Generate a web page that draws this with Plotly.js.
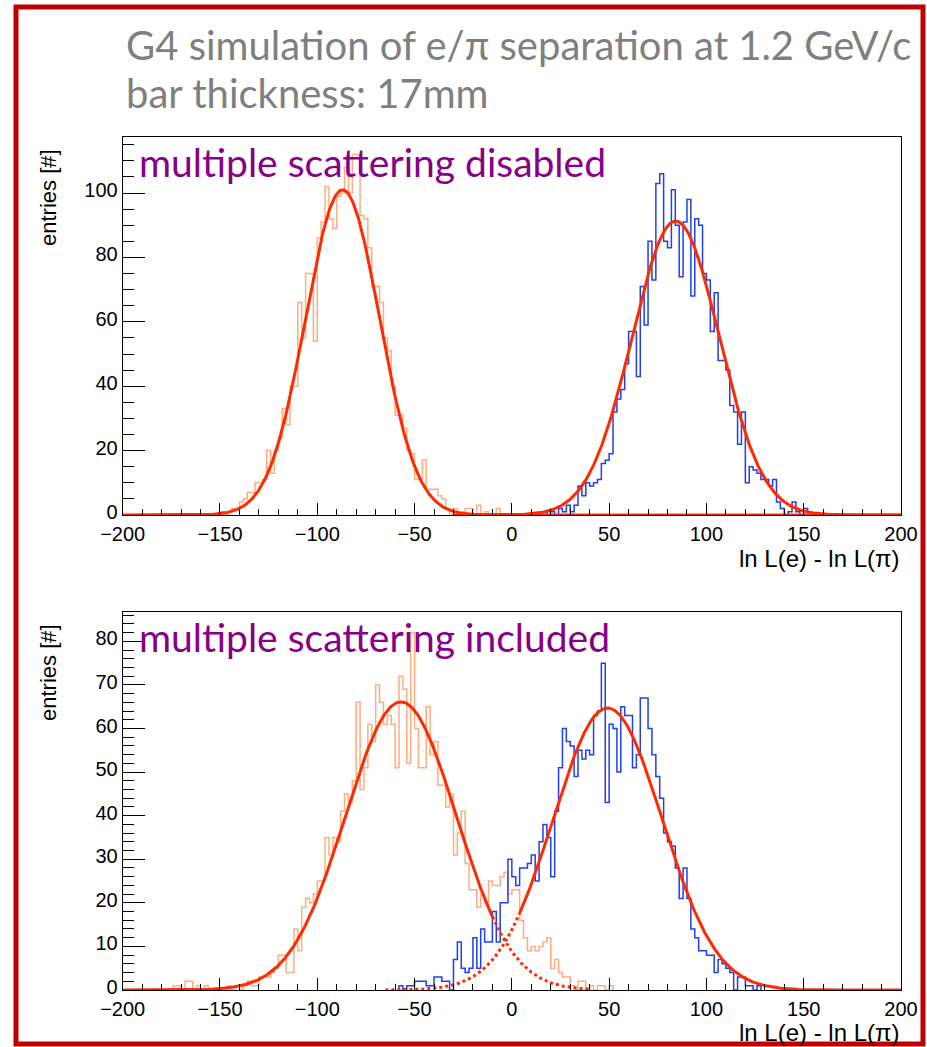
<!DOCTYPE html>
<html><head><meta charset="utf-8">
<script src="https://cdn.plot.ly/plotly-3.0.1.min.js"></script>
<style>html,body{margin:0;padding:0;background:#fff}</style>
</head><body><div id="chart" style="width:927px;height:1047px"></div>
<script>
// ---------- data ----------
const binWidth = 2;
const xTickVals = [-200, -150, -100, -50, 0, 50, 100, 150, 200];

// top panel: multiple scattering disabled
const topPionStart = -150;
const topPionCounts = [1,0,1,2,2,4,5,7,7,10, 10,11,20,13,20,24,33,28,40,40,
  66,55,75,75,54,86,91,102,92,89, 99,100,108,100,112,112,93,92,83,71,
  71,66,55,51,40,31,31,27,20,19, 11,11,17,8,8,8,6,5,2,0,
  2,0,1,2,2,0,3,0,1,0, 0,2];
const topElecStart = 18;
const topElecCounts = [1,1,0,2,1,3,1,3,9,6, 10,9,10,11,16,17,19,32,36,39,
  47,57,57,43,71,59,85,73,103,106, 85,83,101,90,74,91,98,68,92,90,
  75,73,57,69,48,48,45,34,32,22, 32,10,15,14,13,11,11,9,11,4,
  2,0,1,4,1,0,2,1];

// bottom panel: multiple scattering included
const botPionStart = -174;
const botPionCounts = [1,1,0,2,2,0,1,0,1,0, 0,0,0,0,1,0,1,0,1,2,
  1,1,3,3,3,4,5,8,8,4, 4,14,9,19,21,20,22,25,25,35,
  31,35,34,41,45,43,48,66,46,51, 61,57,70,66,61,63,61,51,72,69,
  52,82,60,51,51,65,54,57,47,47, 42,45,31,36,41,29,23,23,19,22,
  20,25,24,24,26,27,22,23,23,16, 12,9,10,9,10,11,12,5,7,4,
  3,3,1,0,2,2,0,1,0,1, 1,0,1];
const botElecStart = -58;
const botElecCounts = [1,0,1,1,2,2,2,1,1,3, 3,2,2,0,7,11,5,4,5,12,
  5,14,11,11,18,11,20,20,30,26, 24,28,28,29,31,25,34,38,35,26,
  41,51,60,57,56,49,55,53,55,54, 63,64,75,43,61,60,50,65,63,63,
  51,54,67,67,60,54,49,44,36,34, 33,28,21,28,21,14,12,9,9,8,
  8,4,7,6,5,4,0,3,3,1, 1,0,1];

// gaussian fits: [amplitude, mean, sigma]
const topPionFit = [101, -87, 19];
const topElecFit = [91.3, 84.2, 22.4];
const botPionFit = [66.1, -57, 28.4];
const botElecFit = [64.7, 49.2, 28];
// drawn ranges of each fit (solid / dotted parts)
const topPionSolid = [-200, 200];
const topElecSolid = [-30, 200];
const botPionSolid = [-200, -10];
const botPionDotted = [-10, 40];
const botElecDotted = [-65, 4];
const botElecSolid = [4, 200];

// ---------- drawing ----------
const W = 927, H = 1047;
const px = v => v / W;
const py = v => 1 - v / H;

const pionColor = '#ffad80';
const elecColor = '#1f3ff0';
const fitColor = '#ff2a00';

function stepTrace(start, counts, color, xa, ya) {
  const xs = [start], ys = [0];
  counts.forEach((c, i) => { xs.push(start + i * binWidth); ys.push(c); });
  const end = start + counts.length * binWidth;
  xs.push(end); ys.push(counts[counts.length - 1]);
  xs.push(end); ys.push(0);
  return {x: xs, y: ys, mode: 'lines', line: {shape: 'hv', color: color, width: 1.5},
          xaxis: xa, yaxis: ya, hoverinfo: 'skip'};
}
function fitTrace(p, range, dash, xa, ya) {
  const xs = [], ys = [];
  for (let x = range[0]; x <= range[1] + 1e-9; x += 0.5) {
    xs.push(x);
    ys.push(p[0] * Math.exp(-0.5 * Math.pow((x - p[1]) / p[2], 2)));
  }
  return {x: xs, y: ys, mode: 'lines', line: {color: fitColor, width: 3, dash: dash},
          xaxis: xa, yaxis: ya, hoverinfo: 'skip'};
}

const traces = [
  stepTrace(topPionStart, topPionCounts, pionColor, 'x', 'y'),
  stepTrace(topElecStart, topElecCounts, elecColor, 'x', 'y'),
  fitTrace(topPionFit, topPionSolid, 'solid', 'x', 'y'),
  fitTrace(topElecFit, topElecSolid, 'solid', 'x', 'y'),
  stepTrace(botPionStart, botPionCounts, pionColor, 'x2', 'y2'),
  stepTrace(botElecStart, botElecCounts, elecColor, 'x2', 'y2'),
  fitTrace(botPionFit, botPionSolid, 'solid', 'x2', 'y2'),
  fitTrace(botPionFit, botPionDotted, 'dot', 'x2', 'y2'),
  fitTrace(botElecFit, botElecDotted, 'dot', 'x2', 'y2'),
  fitTrace(botElecFit, botElecSolid, 'solid', 'x2', 'y2')
];

const tickFont = {family: 'Liberation Sans, Arial, sans-serif', size: 20, color: '#000'};
function xAxis(anchor) {
  return {domain: [px(122.7), px(901)], range: [-200, 200], anchor: anchor,
    tickvals: xTickVals, ticks: 'inside', ticklen: 12, tickwidth: 1, tickcolor: '#000',
    minor: {ticks: 'inside', ticklen: 6, dtick: 10, tickcolor: '#000', tickwidth: 1, showgrid: false},
    showline: true, mirror: true, linecolor: '#000', linewidth: 1,
    ticklabelstandoff: 1,
    showgrid: false, zeroline: false, tickfont: tickFont, fixedrange: true};
}
function yAxis(anchor, dom, top, dtick, minorDtick) {
  return {domain: dom, range: [0, top], anchor: anchor, dtick: dtick, tick0: 0,
    ticks: 'inside', ticklen: 22, tickwidth: 1, tickcolor: '#000',
    minor: {ticks: 'inside', ticklen: 11, dtick: minorDtick, tickcolor: '#000', tickwidth: 1, showgrid: false},
    showline: true, mirror: true, linecolor: '#000', linewidth: 1,
    ticklabelshift: -3,
    showgrid: false, zeroline: false, tickfont: tickFont, fixedrange: true};
}

const titleFont = {family: 'Lato, sans-serif', size: 40, color: '#7f7f7f'};
const purpleFont = {family: 'Lato, sans-serif', size: 39, color: '#880088'};
const axTitleFont = {family: 'Liberation Sans, Arial, sans-serif', size: 24, color: '#000'};
const yTitleFont = {family: 'Liberation Sans, Arial, sans-serif', size: 22, color: '#000'};

function ann(text, x, y, xanchor, yanchor, font, angle) {
  return {text: text, x: px(x), y: py(y), xref: 'paper', yref: 'paper',
    xanchor: xanchor, yanchor: yanchor, showarrow: false, font: font,
    textangle: angle || 0, borderpad: 0};
}

const layout = {
  width: W, height: H,
  margin: {l: 0, r: 0, t: 0, b: 0, pad: 0},
  paper_bgcolor: '#fff', plot_bgcolor: '#fff',
  showlegend: false,
  xaxis: xAxis('y'),
  yaxis: yAxis('x', [py(515), py(136.7)], 117.5, 20, 5),
  xaxis2: xAxis('y2'),
  yaxis2: yAxis('x2', [py(990), py(611.7)], 86.8, 10, 2),
  annotations: [
    ann('G4 simulation of e/π separation at 1.2 GeV/c', 125, 45, 'left', 'middle', titleFont),
    ann('bar thickness: 17mm', 125, 93, 'left', 'middle', titleFont),
    ann('multiple scattering disabled', 138, 162, 'left', 'middle', purpleFont),
    ann('multiple scattering included', 138, 637, 'left', 'middle', purpleFont),
    ann('ln L(e) - ln L(π)', 901, 558, 'right', 'middle', axTitleFont),
    ann('ln L(e) - ln L(π)', 901, 1032, 'right', 'middle', axTitleFont),
    ann('entries [#]', 48, 198, 'center', 'middle', yTitleFont, -90),
    ann('entries [#]', 48, 673, 'center', 'middle', yTitleFont, -90)
  ],
  shapes: [
    {type: 'rect', xref: 'paper', yref: 'paper', x0: px(16), x1: px(923), y0: py(1044), y1: py(7),
     line: {color: '#c00000', width: 5}, fillcolor: 'rgba(0,0,0,0)', layer: 'above'}
  ]
};

Plotly.newPlot('chart', traces, layout, {staticPlot: true, displayModeBar: false});
</script>
</body></html>
